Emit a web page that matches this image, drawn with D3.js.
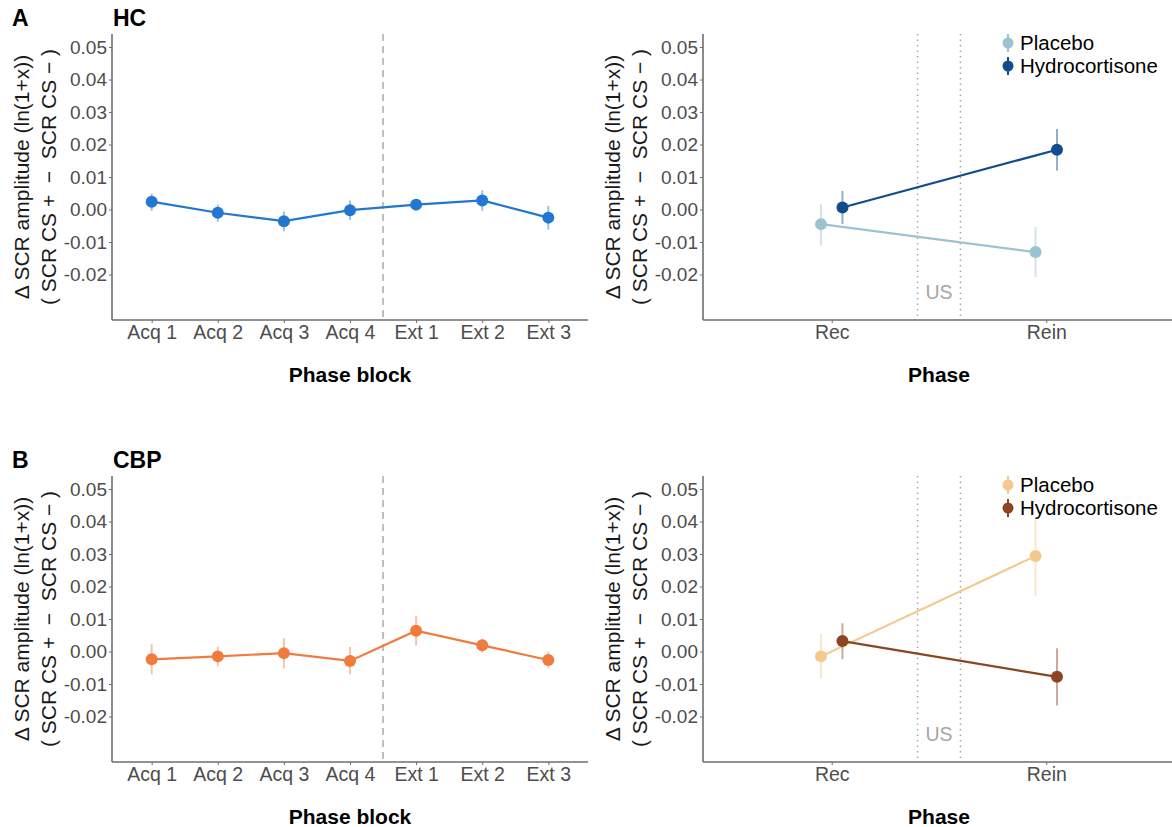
<!DOCTYPE html>
<html>
<head>
<meta charset="utf-8">
<script src="https://cdn.jsdelivr.net/npm/d3@7"></script>
<style>
  html, body { margin: 0; padding: 0; background: #fff; }
  svg { display: block; font-family: "Liberation Sans", Arial, sans-serif; }
</style>
</head>
<body>
<svg id="fig" width="1172" height="827"></svg>
<script>
// ---- data ----
const blockLabels = ["Acq 1", "Acq 2", "Acq 3", "Acq 4", "Ext 1", "Ext 2", "Ext 3"];
const phaseLabels = ["Rec", "Rein"];
const groupLabels = ["Placebo", "Hydrocortisone"];
const yTicks = [-0.02, -0.01, 0.00, 0.01, 0.02, 0.03, 0.04, 0.05];

// HC sample, per phase block (mean and error-bar limits)
const hcBlockMean = [0.0024, -0.0010, -0.0036, -0.0002, 0.0015, 0.0028, -0.0025];
const hcBlockHigh = [0.0049, 0.0015, -0.0006, 0.0028, 0.0030, 0.0059, 0.0011];
const hcBlockLow  = [-0.0004, -0.0038, -0.0067, -0.0032, 0.0001, -0.0004, -0.0062];

// CBP sample, per phase block
const cbpBlockMean = [-0.0024, -0.0015, -0.0005, -0.0029, 0.0064, 0.0019, -0.0026];
const cbpBlockHigh = [0.0023, 0.0015, 0.0041, 0.0014, 0.0110, 0.0039, -0.0001];
const cbpBlockLow  = [-0.0070, -0.0046, -0.0052, -0.0071, 0.0019, -0.0004, -0.0050];

// HC sample, recovery / reinstatement by treatment
const hcPlaceboMean = [-0.0045, -0.0131];
const hcPlaceboHigh = [0.0016, -0.0054];
const hcPlaceboLow  = [-0.0110, -0.0208];
const hcHydroMean   = [0.0006, 0.0184];
const hcHydroHigh   = [0.0057, 0.0248];
const hcHydroLow    = [-0.0045, 0.0120];

// CBP sample, recovery / reinstatement by treatment
const cbpPlaceboMean = [-0.0015, 0.0294];
const cbpPlaceboHigh = [0.0054, 0.0406];
const cbpPlaceboLow  = [-0.0082, 0.0172];
const cbpHydroMean   = [0.0032, -0.0078];
const cbpHydroHigh   = [0.0087, 0.0010];
const cbpHydroLow    = [-0.0024, -0.0166];

// ---- styling ----
const FONT = '"Liberation Sans", Arial, sans-serif';
const axisGrey = "#6e6e6e";
const tickText = "#4d4d4d";
const yLimits = [-0.03, 0.05];
const yPad = (yLimits[1] - yLimits[0]) * 0.05;

const svg = d3.select("#fig");

function zip(mean, low, high) {
  return mean.map((m, i) => ({ i, m, lo: low[i], hi: high[i] }));
}

function drawFrame(g, x, y, labels, xTitle, box) {
  // y axis
  const yAxis = d3.axisLeft(y).tickValues(yTicks).tickSize(3).tickPadding(2)
    .tickFormat(d => d3.format(".2f")(d).replace("−", "-"));
  const ya = g.append("g").attr("transform", `translate(${box.x0},0)`).call(yAxis);
  ya.select(".domain").attr("stroke", axisGrey).attr("stroke-width", 1.6)
    .attr("d", `M0,${box.y0}V${box.y1}`);
  ya.selectAll(".tick line").attr("stroke", axisGrey).attr("stroke-width", 1);
  ya.selectAll(".tick text").attr("fill", tickText).attr("font-size", 19).attr("font-family", FONT);

  // x axis
  const xAxis = d3.axisBottom(x).tickValues(labels.map((_, i) => i + 1))
    .tickFormat(i => labels[i - 1]).tickSize(3).tickPadding(2);
  const xa = g.append("g").attr("transform", `translate(0,${box.y1})`).call(xAxis);
  xa.select(".domain").attr("stroke", axisGrey).attr("stroke-width", 1.6)
    .attr("d", `M${box.x0},0H${box.x1}`);
  xa.selectAll(".tick line").attr("stroke", axisGrey).attr("stroke-width", 1);
  xa.selectAll(".tick text").attr("fill", tickText).attr("font-size", 19.5).attr("font-family", FONT);

  // y axis title (two lines)
  const cy = (box.y0 + box.y1) / 2;
  g.append("text").attr("transform", `translate(${box.x0 - 91},${cy}) rotate(-90)`)
    .attr("text-anchor", "middle").attr("dy", "0.36em").attr("font-size", 21).attr("fill", "#1a1a1a")
    .text("Δ SCR amplitude (ln(1+x))");
  g.append("text").attr("transform", `translate(${box.x0 - 64},${cy}) rotate(-90)`)
    .attr("text-anchor", "middle").attr("dy", "0.36em").attr("font-size", 21).attr("fill", "#1a1a1a")
    .attr("xml:space", "preserve")
    .text("( SCR CS +  −  SCR CS − )");

  // x axis title
  g.append("text").attr("x", (box.x0 + box.x1) / 2).attr("y", box.y1 + 62)
    .attr("text-anchor", "middle").attr("font-size", 21).attr("font-weight", "bold")
    .attr("fill", "#000").text(xTitle);
}

function drawSeries(g, x, y, rows, color, offset) {
  const line = d3.line().x(d => x(d.i + 1 + offset)).y(d => y(d.m));
  g.append("g").selectAll("line").data(rows).join("line")
    .attr("x1", d => x(d.i + 1 + offset)).attr("x2", d => x(d.i + 1 + offset))
    .attr("y1", d => y(d.lo)).attr("y2", d => y(d.hi))
    .attr("stroke", color).attr("stroke-width", 2).attr("stroke-opacity", 0.45);
  g.append("path").datum(rows).attr("d", line).attr("fill", "none")
    .attr("stroke", color).attr("stroke-width", 2.2);
  g.append("g").selectAll("circle").data(rows).join("circle")
    .attr("cx", d => x(d.i + 1 + offset)).attr("cy", d => y(d.m)).attr("r", 6)
    .attr("fill", color);
}

function blockPanel(box, mean, low, high, color) {
  const g = svg.append("g");
  const x = d3.scaleLinear().domain([0.4, blockLabels.length + 0.6]).range([box.x0, box.x1]);
  const y = d3.scaleLinear().domain([yLimits[0] - yPad, yLimits[1] + yPad]).range([box.y1, box.y0]);
  // acquisition / extinction boundary
  g.append("line").attr("x1", x(4.5)).attr("x2", x(4.5)).attr("y1", box.y0).attr("y2", box.y1)
    .attr("stroke", "#b0b0b0").attr("stroke-width", 1.6).attr("stroke-dasharray", "7,5");
  drawSeries(g, x, y, zip(mean, low, high), color, 0);
  drawFrame(g, x, y, blockLabels, "Phase block", box);
}

function phasePanel(box, groups, colors) {
  const g = svg.append("g");
  const x = d3.scaleLinear().domain([0.4, phaseLabels.length + 0.6]).range([box.x0, box.x1]);
  const y = d3.scaleLinear().domain([yLimits[0] - yPad, yLimits[1] + yPad]).range([box.y1, box.y0]);
  // US presentation window between the two phases
  [1.4, 1.6].forEach(v => {
    g.append("line").attr("x1", x(v)).attr("x2", x(v)).attr("y1", box.y0).attr("y2", box.y1)
      .attr("stroke", "#a8a8a8").attr("stroke-width", 1.5).attr("stroke-dasharray", "1.5,4");
  });
  g.append("text").attr("x", x(1.5)).attr("y", box.y1 - 21).attr("text-anchor", "middle")
    .attr("font-size", 19.5).attr("fill", "#a6a6a6").text("US");
  const dodge = [-0.05, 0.05];
  groups.forEach((rows, k) => drawSeries(g, x, y, rows, colors[k], dodge[k]));
  drawFrame(g, x, y, phaseLabels, "Phase", box);

  // legend
  const lg = g.append("g").attr("transform", `translate(${box.x0 + 305},${box.y0 + 9})`);
  groupLabels.forEach((name, k) => {
    const row = lg.append("g").attr("transform", `translate(0,${k * 23})`);
    row.append("line").attr("x1", 0).attr("x2", 0).attr("y1", -9).attr("y2", 9)
      .attr("stroke", colors[k]).attr("stroke-width", 2);
    row.append("circle").attr("r", 5.5).attr("fill", colors[k]);
    row.append("text").attr("x", 12).attr("y", 7.3).attr("font-size", 20.5)
      .attr("fill", "#000").text(name);
  });
}

function panelTitle(letter, name, ty) {
  svg.append("text").attr("x", 12).attr("y", ty).attr("font-size", 23).attr("font-weight", "bold").text(letter);
  svg.append("text").attr("x", 113).attr("y", ty).attr("font-size", 23).attr("font-weight", "bold").text(name);
}

// ---- row A: HC ----
panelTitle("A", "HC", 26);
blockPanel({ x0: 112, x1: 588, y0: 34, y1: 320 }, hcBlockMean, hcBlockLow, hcBlockHigh, "#2277d1");
phasePanel({ x0: 703, x1: 1175, y0: 34, y1: 320 },
  [zip(hcPlaceboMean, hcPlaceboLow, hcPlaceboHigh), zip(hcHydroMean, hcHydroLow, hcHydroHigh)],
  ["#9bc3d1", "#114d8c"]);

// ---- row B: CBP ----
panelTitle("B", "CBP", 468);
blockPanel({ x0: 112, x1: 588, y0: 476, y1: 762 }, cbpBlockMean, cbpBlockLow, cbpBlockHigh, "#f07b3f");
phasePanel({ x0: 703, x1: 1175, y0: 476, y1: 762 },
  [zip(cbpPlaceboMean, cbpPlaceboLow, cbpPlaceboHigh), zip(cbpHydroMean, cbpHydroLow, cbpHydroHigh)],
  ["#f2c98e", "#8b4522"]);
</script>
</body>
</html>
